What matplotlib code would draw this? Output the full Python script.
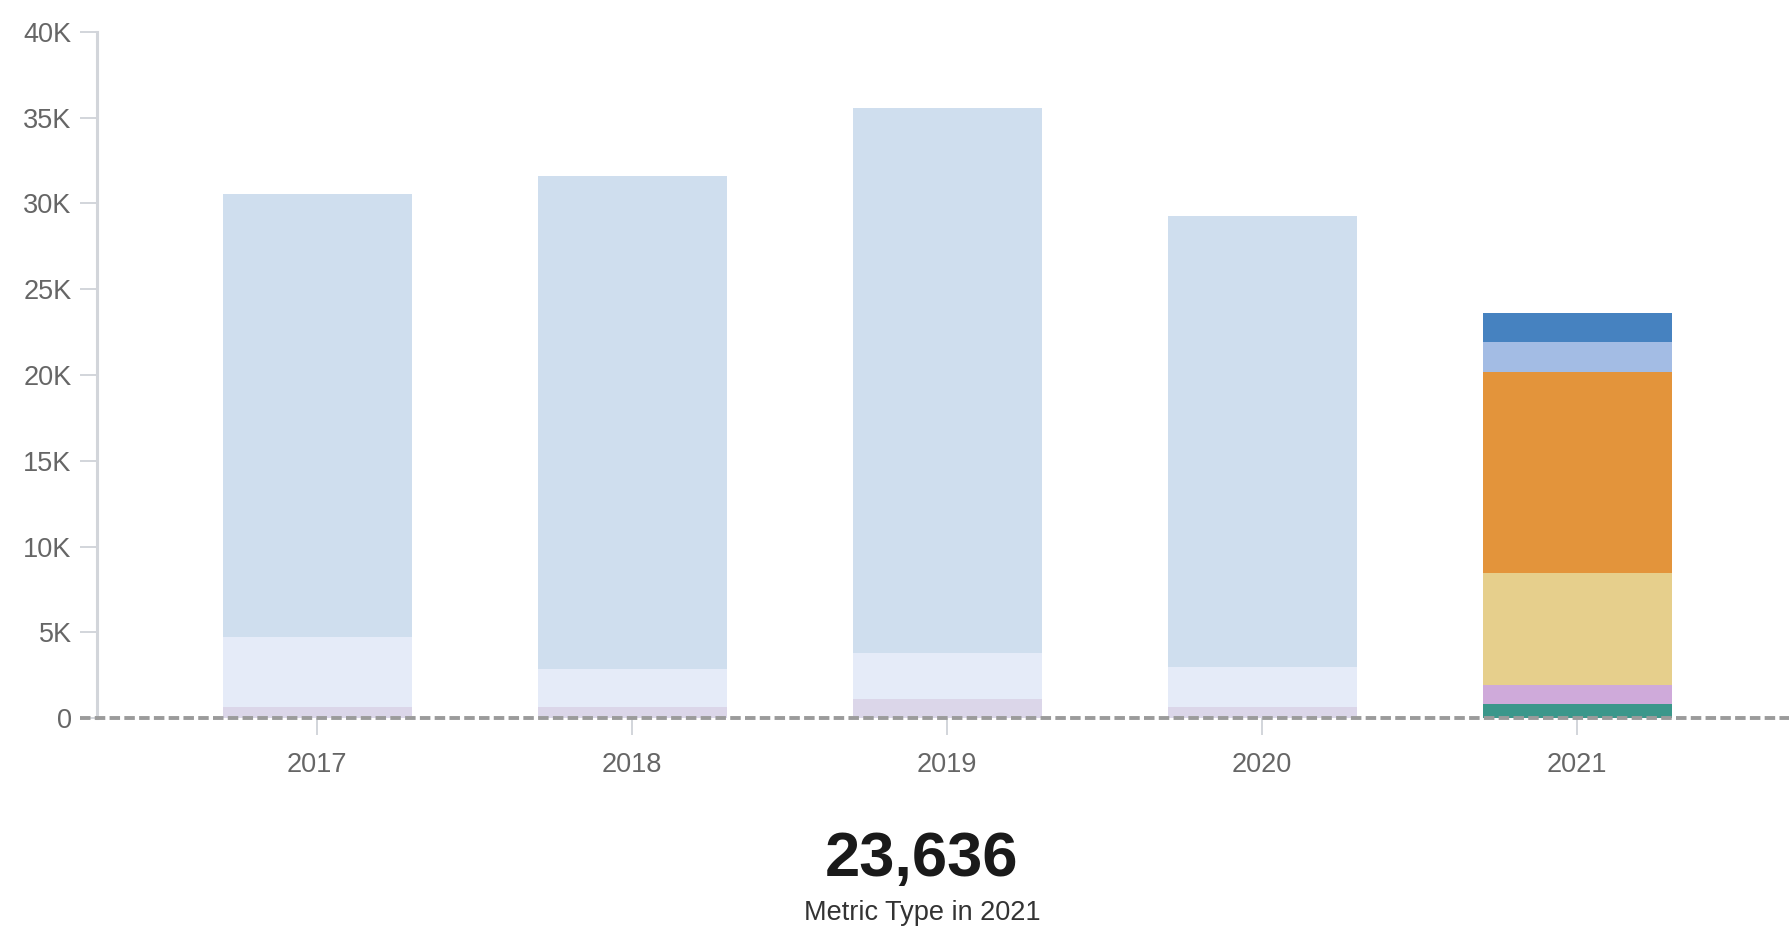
import matplotlib
matplotlib.use("Agg")
import matplotlib.pyplot as plt
import numpy as np
from matplotlib.ticker import FuncFormatter, MultipleLocator

plt.rcParams["font.family"] = ["Liberation Sans", "DejaVu Sans"]

# ---- data ----
years = ["2017", "2018", "2019", "2020", "2021"]

# earlier years, stacked bottom to top
past_low = [680, 680, 1140, 680]
past_mid = [4040, 2170, 2650, 2290]
past_high = [25820, 28730, 31750, 26280]
past_colors = ["#dbd6e9", "#e5ebf8", "#cfdeee"]

# current year, stacked bottom to top
current_values = [815, 1125, 6540, 11670, 1750, 1736]
current_colors = ["#3b978b", "#cfaada", "#e6cf8c", "#e3943b", "#a3bce4", "#4682c0"]

headline_value = 23636
headline_caption = "Metric Type in 2021"

# ---- figure ----
fig = plt.figure(figsize=(17.9, 9.34), dpi=100)
ax = fig.add_axes([0.054, 0.231, 0.946, 0.735])

x = np.arange(len(years))
bar_w = 0.6

bottom = np.zeros(len(past_low))
for vals, col in zip([past_low, past_mid, past_high], past_colors):
    ax.bar(x[:-1], vals, width=bar_w, bottom=bottom, color=col,
           edgecolor="none", zorder=2)
    bottom += np.array(vals)

b = 0
for v, col in zip(current_values, current_colors):
    ax.bar(x[-1], v, width=bar_w, bottom=b, color=col, edgecolor="none", zorder=2)
    b += v

ax.set_xlim(-0.7, 4.676)
ax.set_ylim(0, 40000)

ax.yaxis.set_major_locator(MultipleLocator(5000))
ax.yaxis.set_major_formatter(FuncFormatter(lambda v, p: "0" if v == 0 else f"{int(v/1000)}K"))
ax.set_xticks(x)
ax.set_xticklabels(years)

for s in ["top", "right", "bottom"]:
    ax.spines[s].set_visible(False)
ax.spines["left"].set_color("#d2d5da")
ax.spines["left"].set_linewidth(2.2)

ax.tick_params(axis="y", length=12, width=1.4, color="#d2d5da",
               labelsize=19.5, labelcolor="#666666", pad=6)
ax.tick_params(axis="x", length=12, width=1.4, color="#d2d5da",
               labelsize=19.5, labelcolor="#666666", pad=12)

# dashed zero baseline, running under the axis ticks to the right edge
ax.plot([-0.0099, 1.0], [0, 0], transform=ax.get_yaxis_transform(),
        color="#9b9b9b", lw=2.8, ls=(0, (2.7, 1.1)), clip_on=False, zorder=5)

# headline figure below the chart
fig.text(0.515, 0.062, f"{headline_value:,}", ha="center", va="baseline",
         fontsize=45.5, fontweight="bold", color="#1a1a1a")
fig.text(0.515, 0.015, headline_caption, ha="center", va="baseline",
         fontsize=19.5, color="#333333")

fig.savefig("out.png", dpi=100)
